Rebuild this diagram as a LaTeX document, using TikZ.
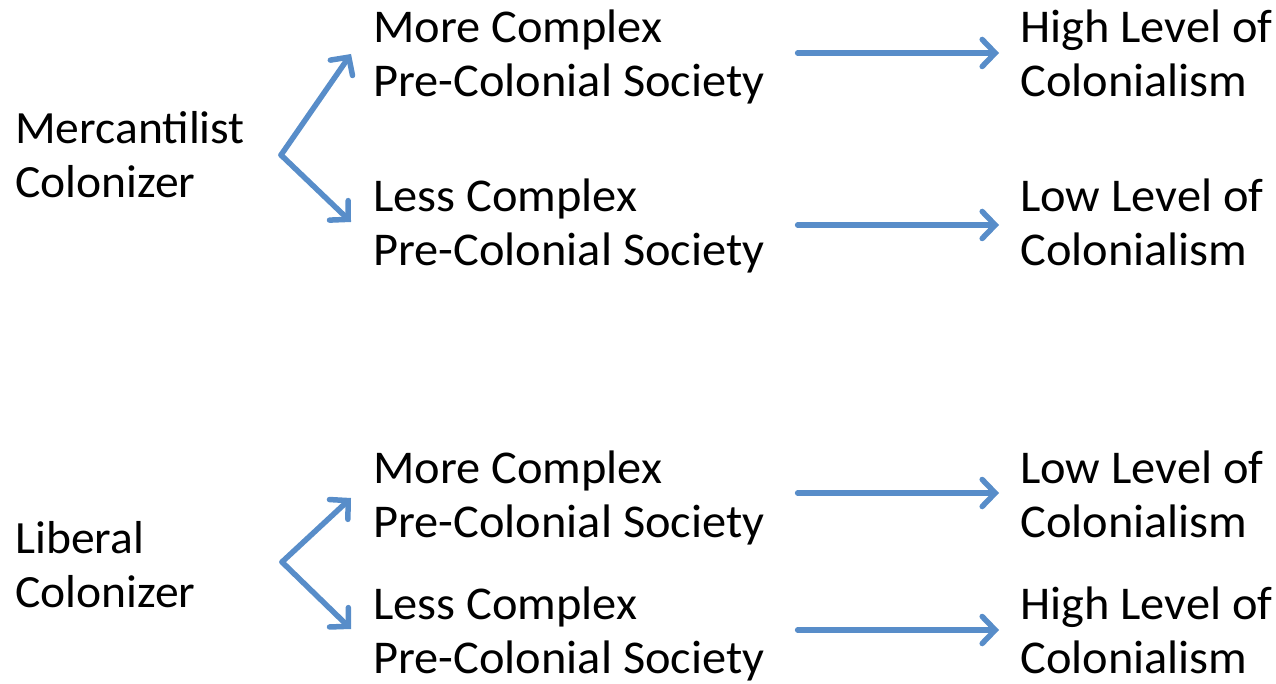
\documentclass[tikz,border=0pt]{standalone}
\usepackage{fontspec}
\setmainfont{Carlito}[FakeStretch=1.03]
\usetikzlibrary{arrows.meta}
\definecolor{arrowblue}{RGB}{88,141,201}

\begin{document}
\begin{tikzpicture}[x=1pt, y=-1pt]
  \tikzstyle{every node} = [inner sep = 0,
                            anchor = base west,
                            align = left,
                            font = \fontsize{47}{54}\selectfont]
\tikzset{EdgeStyle/.style={-{Straight Barb[length=13pt, width=27pt, line cap=round]},
                           line width = 5.5pt, arrowblue, line cap = round}}
\tikzset{SideStyle/.style={font = \fontsize{46.2}{54}\selectfont}}
\useasboundingbox (0,0) rectangle (1276,684);

% mercantilist colonizer
\node[SideStyle] (M0) at (15,198) {Mercantilist\\Colonizer};
\node (M1) at (373,97)   {More Complex\\Pre-Colonial Society};
\node (M2) at (373,266)  {Less Complex\\Pre-Colonial Society};
\node (M3) at (1020,97)  {High Level of\\Colonialism};
\node (M4) at (1020,266) {Low Level of\\Colonialism};

% liberal colonizer
\node[SideStyle] (L0) at (15,607) {Liberal\\Colonizer};
\node (L1) at (373,537)  {More Complex\\Pre-Colonial Society};
\node (L2) at (373,673)  {Less Complex\\Pre-Colonial Society};
\node (L3) at (1020,537) {Low Level of\\Colonialism};
\node (L4) at (1020,673) {High Level of\\Colonialism};

\coordinate (M0v) at (281,155);
\coordinate (L0v) at (282,562);
\coordinate (M1t) at (351,54);
\coordinate (M2t) at (351,222);
\coordinate (L1t) at (351,498);
\coordinate (L2t) at (351,629);

\draw[EdgeStyle] (M0v) -- (M1t);
\draw[EdgeStyle] (M0v) -- (M2t);
\draw[EdgeStyle] (L0v) -- (L1t);
\draw[EdgeStyle] (L0v) -- (L2t);

\draw[EdgeStyle] ([shift={(33,-44)}]M1.base east) -- ([shift={(-21,-44)}]M3.base west);
\draw[EdgeStyle] ([shift={(33,-41)}]M2.base east) -- ([shift={(-21,-41)}]M4.base west);
\draw[EdgeStyle] ([shift={(33,-44)}]L1.base east) -- ([shift={(-21,-44)}]L3.base west);
\draw[EdgeStyle] ([shift={(33,-43)}]L2.base east) -- ([shift={(-21,-43)}]L4.base west);

\end{tikzpicture}
\end{document}
